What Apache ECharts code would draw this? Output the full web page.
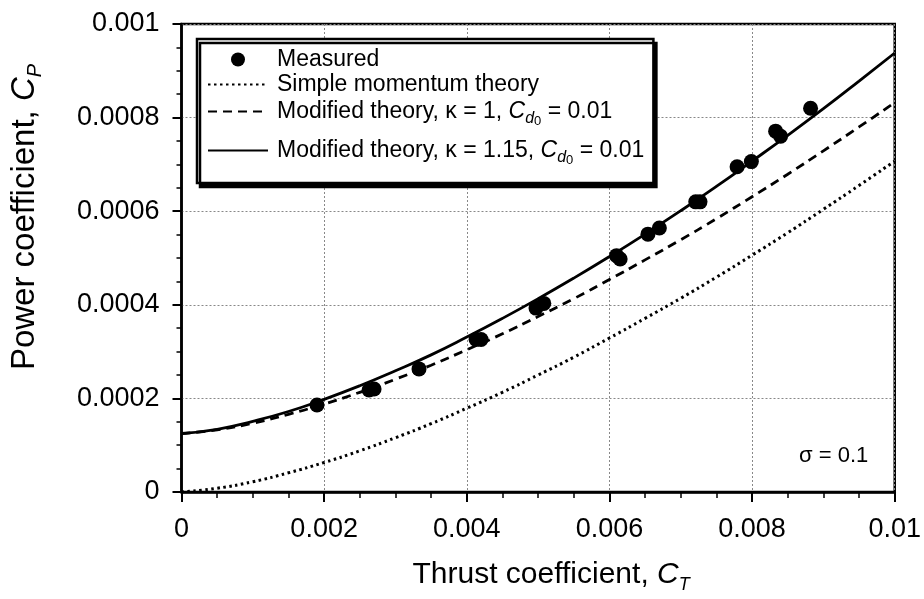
<!DOCTYPE html>
<html>
<head>
<meta charset="utf-8">
<title>Power coefficient vs thrust coefficient</title>
<script src="https://cdn.jsdelivr.net/npm/echarts@6/dist/echarts.min.js"></script>
<style>
  html, body { margin: 0; padding: 0; background: #fff; }
  #chart { width: 924px; height: 599px; }
</style>
</head>
<body>
<div id="chart"></div>
<script>
const ctGrid = [0, 0.0005, 0.001, 0.0015, 0.002, 0.0025, 0.003, 0.0035, 0.004, 0.0045, 0.005,
  0.0055, 0.006, 0.0065, 0.007, 0.0075, 0.008, 0.0085, 0.009, 0.0095, 0.01];
// simple momentum theory (dotted)
const cpSimple = [0, 0.000008, 0.000022, 0.000041, 0.000063, 0.000088, 0.000116, 0.000146, 0.000179, 0.000213, 0.000250,
  0.000288, 0.000329, 0.000371, 0.000414, 0.000459, 0.000506, 0.000554, 0.000604, 0.000655, 0.000707];
// modified theory, kappa = 1 (dashed)
const cpKappa1 = [0.000125, 0.000133, 0.000147, 0.000166, 0.000188, 0.000213, 0.000241, 0.000271, 0.000304, 0.000338, 0.000375,
  0.000413, 0.000454, 0.000496, 0.000539, 0.000584, 0.000631, 0.000679, 0.000729, 0.000780, 0.000832];
// modified theory, kappa = 1.15 (solid)
const cpKappa115 = [0.000125, 0.000134, 0.000151, 0.000172, 0.000198, 0.000227, 0.000259, 0.000293, 0.000331, 0.000371, 0.000413,
  0.000457, 0.000503, 0.000551, 0.000601, 0.000653, 0.000707, 0.000762, 0.000819, 0.000878, 0.000938];
// measured points
const measuredCT = [0.0019, 0.00263, 0.0027, 0.00333, 0.00413, 0.0042, 0.00497, 0.00508, 0.0061, 0.00615,
  0.00654, 0.0067, 0.00721, 0.00727, 0.00779, 0.00799, 0.00833, 0.0084, 0.00882];
const measuredCP = [0.000186, 0.000218, 0.00022, 0.000263, 0.000326, 0.000326, 0.000393, 0.000403, 0.000505, 0.000498,
  0.000551, 0.000564, 0.00062, 0.00062, 0.000695, 0.000706, 0.000771, 0.00076, 0.00082];

const seriesNames = ['Measured', 'Simple momentum theory',
  'Modified theory, κ = 1, Cd0 = 0.01', 'Modified theory, κ = 1.15, Cd0 = 0.01'];
// legend texts with the subscripts ({g} only sets the row height)
const legendLabels = {
  'Measured': 'Measured',
  'Simple momentum theory': 'Simple momentum theory',
  'Modified theory, κ = 1, Cd0 = 0.01': 'Modified theory, κ = 1, {i|C}{d|d}{z|0} = 0.01{g3| }',
  'Modified theory, κ = 1.15, Cd0 = 0.01': 'Modified theory, κ = 1.15, {i|C}{d|d}{z|0} = 0.01{g4| }'
};

const FONT = '"Liberation Sans", Arial, Helvetica, sans-serif';
const noMarker = { color: 'rgba(0,0,0,0)', borderColor: 'rgba(0,0,0,0)', borderWidth: 0 };

const chart = echarts.init(document.getElementById('chart'));

function pairs(xs, ys) {
  return xs.map(function (x, i) { return [x, ys[i]]; });
}
function tickText(v) {
  return String(+v.toFixed(4));
}

chart.setOption({
  animation: false,
  backgroundColor: '#fff',
  textStyle: { fontFamily: FONT, color: '#000' },
  grid: {
    left: 181, right: 20, top: 24, bottom: 103,
    show: true, borderColor: '#000', borderWidth: 2.5
  },
  legend: {
    data: [
      { name: seriesNames[0] },
      { name: seriesNames[1], itemStyle: noMarker },
      { name: seriesNames[2], itemStyle: noMarker },
      { name: seriesNames[3], itemStyle: noMarker }
    ],
    orient: 'vertical',
    left: 197, top: 39,
    align: 'left',
    itemWidth: 60, itemHeight: 14, itemGap: 0,
    padding: [8, 8, 10, 10],
    backgroundColor: '#fff',
    borderColor: '#000', borderWidth: 2.5,
    shadowColor: '#000', shadowBlur: 0, shadowOffsetX: 3, shadowOffsetY: 4,
    selectedMode: false,
    formatter: function (name) { return legendLabels[name]; },
    textStyle: {
      fontFamily: FONT, fontSize: 23, lineHeight: 25, color: '#000', padding: [0, 0, 0, 4],
      rich: {
        i: { fontFamily: FONT, fontSize: 23, fontStyle: 'italic' },
        d: { fontFamily: FONT, fontSize: 16, fontStyle: 'italic', padding: [14, 0, 0, 0] },
        z: { fontFamily: FONT, fontSize: 13, padding: [20, 0, 0, 0] },
        g3: { fontSize: 4, lineHeight: 29 },
        g4: { fontSize: 4, lineHeight: 45 }
      }
    }
  },
  graphic: [{
    type: 'text',
    left: 799, top: 445,
    style: { text: 'σ = 0.1', font: '22px ' + FONT, fill: '#000' }
  }],
  xAxis: {
    type: 'value',
    min: 0, max: 0.01, interval: 0.002,
    name: 'Thrust coefficient, {i|C}{s|T}',
    nameLocation: 'middle',
    nameGap: 64,
    nameTextStyle: {
      fontFamily: FONT, fontSize: 30, color: '#000', padding: [0, 0, 0, 26],
      rich: {
        i: { fontFamily: FONT, fontSize: 30, fontStyle: 'italic' },
        s: { fontFamily: FONT, fontSize: 18, fontStyle: 'italic', padding: [20, 0, 0, 0] }
      }
    },
    axisLine: { lineStyle: { color: '#000', width: 2.5 } },
    axisTick: { inside: false, length: 10, lineStyle: { color: '#000', width: 2 } },
    minorTick: { show: true, splitNumber: 4, length: 6, lineStyle: { color: '#000', width: 1.5 } },
    axisLabel: { fontFamily: FONT, fontSize: 27, color: '#000', margin: 24, formatter: tickText },
    splitLine: { show: true, lineStyle: { color: '#888', width: 1, type: [2, 2] } }
  },
  yAxis: {
    type: 'value',
    min: 0, max: 0.001, interval: 0.0002,
    name: 'Power coefficient, {i|C}{s|P}',
    nameLocation: 'middle',
    nameRotate: 90,
    nameGap: 136,
    nameTextStyle: {
      fontFamily: FONT, fontSize: 33, color: '#000', padding: [0, 0, 0, 82],
      rich: {
        i: { fontFamily: FONT, fontSize: 33, fontStyle: 'italic' },
        s: { fontFamily: FONT, fontSize: 20, fontStyle: 'italic', padding: [22, 0, 0, 0] }
      }
    },
    axisLine: { show: true, lineStyle: { color: '#000', width: 2.5 } },
    axisTick: { show: true, inside: false, length: 9, lineStyle: { color: '#000', width: 2 } },
    minorTick: { show: true, splitNumber: 4, length: 5, lineStyle: { color: '#000', width: 1.5 } },
    axisLabel: { fontFamily: FONT, fontSize: 27, color: '#000', margin: 22, formatter: tickText },
    splitLine: { show: true, lineStyle: { color: '#888', width: 1, type: [2, 2] } }
  },
  series: [
    {
      name: seriesNames[1],
      type: 'line',
      smooth: true,
      symbol: 'none',
      data: pairs(ctGrid, cpSimple),
      lineStyle: { color: '#000', width: 3, type: [2.5, 3.5] },
      itemStyle: { color: '#000' }
    },
    {
      name: seriesNames[2],
      type: 'line',
      smooth: true,
      symbol: 'none',
      data: pairs(ctGrid, cpKappa1),
      lineStyle: { color: '#000', width: 2.8, type: [9, 6] },
      itemStyle: { color: '#000' }
    },
    {
      name: seriesNames[3],
      type: 'line',
      smooth: true,
      symbol: 'none',
      data: pairs(ctGrid, cpKappa115),
      lineStyle: { color: '#000', width: 2.8, type: 'solid' },
      itemStyle: { color: '#000' }
    },
    {
      name: seriesNames[0],
      type: 'scatter',
      symbol: 'circle',
      symbolSize: 15,
      data: pairs(measuredCT, measuredCP),
      itemStyle: { color: '#000', opacity: 1 },
      z: 5
    }
  ]
});
</script>
</body>
</html>
